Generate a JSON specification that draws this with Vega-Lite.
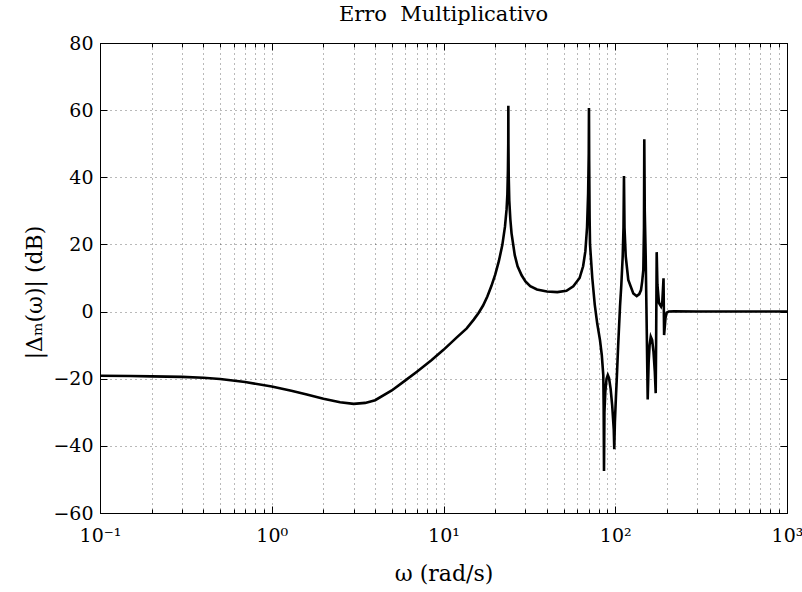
{
  "$schema": "https://vega.github.io/schema/vega-lite/v6.json",
  "width": 687,
  "height": 470,
  "autosize": "none",
  "padding": {"left": 100, "top": 43, "right": 15, "bottom": 79},
  "background": "white",
  "config": {
    "view": {"stroke": "#000", "strokeWidth": 1},
    "font": "DejaVu Serif",
    "axis": {
      "domainColor": "#000",
      "domainWidth": 1,
      "tickColor": "#000",
      "tickWidth": 1,
      "labelColor": "#000",
      "titleColor": "#000",
      "labelFont": "DejaVu Serif",
      "titleFont": "DejaVu Serif",
      "labelFontSize": 19,
      "titleFontSize": 22,
      "titleFontWeight": "normal",
      "gridColor": "#000",
      "gridOpacity": 0.55,
      "gridDash": [1, 4],
      "gridWidth": 1
    }
  },
  "title": {
    "text": "Erro\u00a0 Multiplicativo",
    "font": "DejaVu Serif",
    "fontSize": 21,
    "fontWeight": "normal",
    "color": "#000",
    "offset": 9
  },
  "data": {
    "values": [
      {"w": 0.1, "db": -19.1}, {"w": 0.15, "db": -19.2}, {"w": 0.2, "db": -19.3}, {"w": 0.3, "db": -19.45},
      {"w": 0.4, "db": -19.7}, {"w": 0.5, "db": -20.1}, {"w": 0.7, "db": -21.0}, {"w": 1.0, "db": -22.3},
      {"w": 1.3, "db": -23.6}, {"w": 1.6, "db": -24.7}, {"w": 2.0, "db": -26.0}, {"w": 2.5, "db": -27.0},
      {"w": 3.0, "db": -27.5}, {"w": 3.5, "db": -27.2}, {"w": 4.0, "db": -26.4}, {"w": 5.0, "db": -23.5},
      {"w": 6.0, "db": -20.5}, {"w": 7.0, "db": -17.9}, {"w": 8.5, "db": -14.5}, {"w": 10, "db": -11.4},
      {"w": 12, "db": -7.6}, {"w": 13.65, "db": -5.0}, {"w": 15, "db": -2.4}, {"w": 16, "db": -0.4},
      {"w": 17, "db": 1.8}, {"w": 18, "db": 4.5}, {"w": 19, "db": 7.6}, {"w": 20, "db": 11},
      {"w": 21, "db": 15}, {"w": 22, "db": 19.8}, {"w": 22.8, "db": 25.3}, {"w": 23.3, "db": 30.5},
      {"w": 23.55, "db": 35}, {"w": 23.72, "db": 42}, {"w": 23.82, "db": 50}, {"w": 23.85, "db": 61.3},
      {"w": 23.88, "db": 50}, {"w": 23.98, "db": 40}, {"w": 24.16, "db": 33}, {"w": 24.5, "db": 27.5},
      {"w": 24.9, "db": 23.3}, {"w": 26, "db": 16.8}, {"w": 27, "db": 13.5}, {"w": 28.5, "db": 10.8},
      {"w": 30, "db": 9.0}, {"w": 32, "db": 7.6}, {"w": 35, "db": 6.6}, {"w": 40, "db": 6.0},
      {"w": 46, "db": 5.8}, {"w": 52, "db": 6.2}, {"w": 57, "db": 7.5}, {"w": 62, "db": 10},
      {"w": 65, "db": 13.5}, {"w": 67, "db": 18}, {"w": 68.5, "db": 25}, {"w": 69.5, "db": 35},
      {"w": 70.1, "db": 47}, {"w": 70.3, "db": 60.6}, {"w": 70.5, "db": 45}, {"w": 70.9, "db": 28},
      {"w": 71.3, "db": 20}, {"w": 73.5, "db": 10}, {"w": 76, "db": 2}, {"w": 78.5, "db": -3.5},
      {"w": 81.5, "db": -8.5}, {"w": 83.5, "db": -13}, {"w": 85.2, "db": -19}, {"w": 85.6, "db": -28},
      {"w": 86.0, "db": -47.5}, {"w": 86.5, "db": -30}, {"w": 87.5, "db": -24}, {"w": 89, "db": -20},
      {"w": 90.5, "db": -18.9}, {"w": 92, "db": -19.8}, {"w": 94, "db": -23}, {"w": 96, "db": -28},
      {"w": 98, "db": -35}, {"w": 98.7, "db": -41}, {"w": 99.5, "db": -33}, {"w": 101, "db": -25},
      {"w": 102, "db": -20.4}, {"w": 104, "db": -10}, {"w": 106.6, "db": 1.5}, {"w": 108.5, "db": 8},
      {"w": 110.5, "db": 16.4}, {"w": 111.7, "db": 25}, {"w": 112.4, "db": 40.4}, {"w": 113.2, "db": 25},
      {"w": 115.1, "db": 16.4}, {"w": 119.1, "db": 9.4}, {"w": 127.4, "db": 5.4}, {"w": 133.3, "db": 4.6},
      {"w": 138, "db": 5.2}, {"w": 141.2, "db": 6.4}, {"w": 143.5, "db": 9}, {"w": 145.7, "db": 12.4},
      {"w": 147, "db": 25}, {"w": 147.6, "db": 51.3}, {"w": 148.5, "db": 30}, {"w": 150.4, "db": 16.4},
      {"w": 152.5, "db": -5}, {"w": 154.5, "db": -26.2}, {"w": 156.5, "db": -15}, {"w": 158.5, "db": -10},
      {"w": 161, "db": -7.5}, {"w": 164, "db": -8.5}, {"w": 167, "db": -12}, {"w": 170, "db": -18},
      {"w": 172, "db": -24.3}, {"w": 173.2, "db": -5}, {"w": 174.3, "db": 17.7}, {"w": 176, "db": 8},
      {"w": 179.8, "db": 2.5}, {"w": 184.7, "db": 1.5}, {"w": 188, "db": 3}, {"w": 191, "db": 9.9},
      {"w": 192.5, "db": -7}, {"w": 196, "db": -2}, {"w": 199.4, "db": -0.3}, {"w": 205, "db": 0},
      {"w": 220, "db": 0.1}, {"w": 300, "db": 0}, {"w": 1000, "db": 0}
    ]
  },
  "layer": [
    {
      "mark": {"type": "line", "color": "#000", "strokeWidth": 2.6, "clip": true},
      "encoding": {
        "x": {
          "field": "w", "type": "quantitative",
          "scale": {"type": "log", "domain": [0.1, 1000]},
          "axis": {
            "orient": "bottom",
            "values": [0.1,0.2,0.3,0.4,0.5,0.6,0.7,0.8,0.9,1,2,3,4,5,6,7,8,9,10,20,30,40,50,60,70,80,90,100,200,300,400,500,600,700,800,900,1000],
            "grid": true,
            "tickSize": {"condition": {"test": "indexof([0.1,1,10,100,1000], datum.value) >= 0", "value": -7}, "value": -4},
            "labelExpr": "datum.value == 0.1 ? '10⁻¹' : datum.value == 1 ? '10⁰' : datum.value == 10 ? '10¹' : datum.value == 100 ? '10²' : datum.value == 1000 ? '10³' : ''",
            "labelPadding": 20,
            "labelFlush": false,
            "labelOverlap": false,
            "title": "ω (rad/s)",
            "titlePadding": 15
          }
        },
        "y": {
          "field": "db", "type": "quantitative",
          "scale": {"domain": [-60, 80]},
          "axis": {
            "orient": "left",
            "values": [-60,-40,-20,0,20,40,60,80],
            "grid": true,
            "tickSize": -7,
            "labelPadding": 14,
            "title": "|Δₘ(ω)| (dB)",
            "titleY": 249,
            "titlePadding": 6
          }
        }
      }
    },
    {
      "mark": {"type": "line", "color": "#000", "opacity": 0},
      "encoding": {
        "x": {
          "field": "w", "type": "quantitative",
          "scale": {"type": "log", "domain": [0.1, 1000]},
          "axis": {
            "orient": "top",
            "values": [0.1,0.2,0.3,0.4,0.5,0.6,0.7,0.8,0.9,1,2,3,4,5,6,7,8,9,10,20,30,40,50,60,70,80,90,100,200,300,400,500,600,700,800,900,1000],
            "grid": false,
            "labels": false,
            "title": null,
            "tickSize": {"condition": {"test": "indexof([0.1,1,10,100,1000], datum.value) >= 0", "value": -7}, "value": -4}
          }
        },
        "y": {
          "field": "db", "type": "quantitative",
          "scale": {"domain": [-60, 80]},
          "axis": {
            "orient": "right",
            "values": [-60,-40,-20,0,20,40,60,80],
            "grid": false,
            "labels": false,
            "title": null,
            "tickSize": -7
          }
        }
      }
    }
  ],
  "resolve": {"axis": {"x": "independent", "y": "independent"}}
}
